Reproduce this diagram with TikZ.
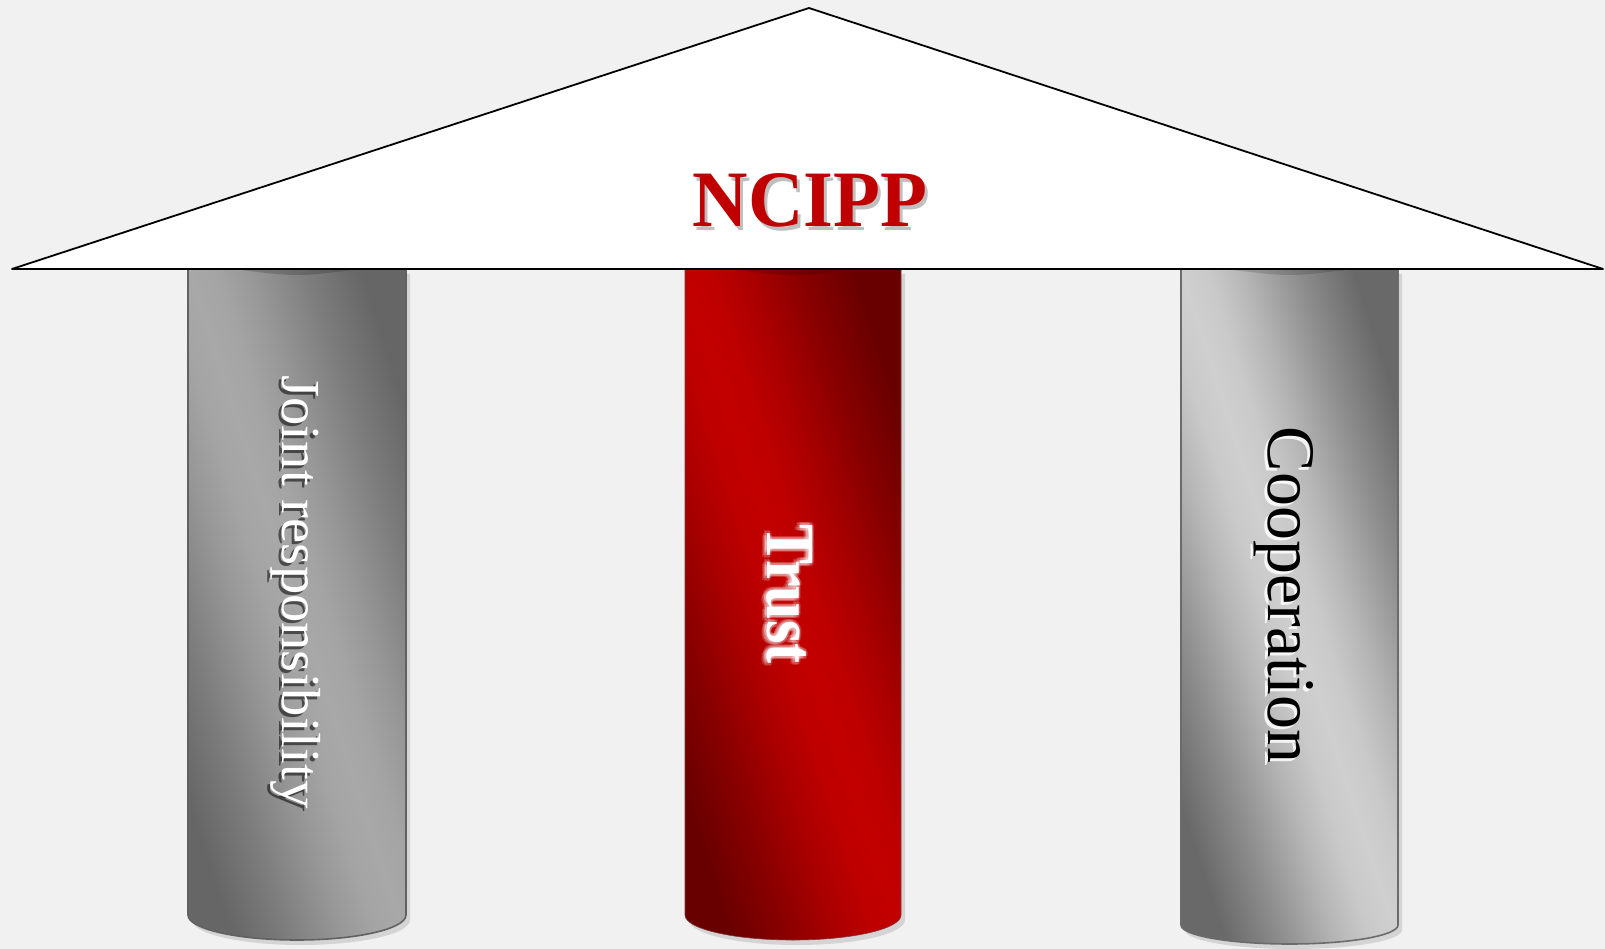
\documentclass[tikz,border=0pt]{standalone}
\usepackage{fontspec}
\setmainfont{Liberation Serif}
\usepackage{graphicx}
\definecolor{bg}{HTML}{F0F1F0}
\definecolor{gLl}{HTML}{A8A8A8}
\definecolor{gLd}{HTML}{666666}
\definecolor{rl}{HTML}{C20000}
\definecolor{rd}{HTML}{680000}
\definecolor{gRl}{HTML}{CFCFCF}
\definecolor{gRd}{HTML}{696969}
\definecolor{ncred}{HTML}{C00000}
\pgfdeclareverticalshading{pilgreyL}{100bp}{color(0bp)=(gLd); color(25bp)=(gLd); color(33bp)=(gLl!35!gLd); color(41bp)=(gLl!75!gLd); color(46bp)=(gLl!94!gLd); color(50bp)=(gLl); color(54bp)=(gLl!94!gLd); color(59bp)=(gLl!75!gLd); color(67bp)=(gLl!35!gLd); color(75bp)=(gLd); color(100bp)=(gLd)}
\pgfdeclareverticalshading{pilred}{100bp}{color(0bp)=(rd); color(25bp)=(rd); color(33bp)=(rl!35!rd); color(41bp)=(rl!75!rd); color(46bp)=(rl!94!rd); color(50bp)=(rl); color(54bp)=(rl!94!rd); color(59bp)=(rl!75!rd); color(67bp)=(rl!35!rd); color(75bp)=(rd); color(100bp)=(rd)}
\pgfdeclareverticalshading{pilgreyR}{100bp}{color(0bp)=(gRd); color(25bp)=(gRd); color(33bp)=(gRl!35!gRd); color(41bp)=(gRl!75!gRd); color(46bp)=(gRl!94!gRd); color(50bp)=(gRl); color(54bp)=(gRl!94!gRd); color(59bp)=(gRl!75!gRd); color(67bp)=(gRl!35!gRd); color(75bp)=(gRd); color(100bp)=(gRd)}
\newcommand\pillarpath[4]{(#1,269) -- (#1,#3) .. controls (#1,{#3+0.552*#4}) and ({(#1+#2)/2-0.552*(#2-#1)/2},{#3+#4}) .. ({(#1+#2)/2},{#3+#4}) .. controls ({(#1+#2)/2+0.552*(#2-#1)/2},{#3+#4}) and (#2,{#3+0.552*#4}) .. (#2,#3) -- (#2,269) -- cycle}
\newcommand\toplens[2]{({#1+45},269) .. controls ({(#1+#2)/2},277) .. ({#2-45},269) -- cycle}
\tikzset{
  pilshadow/.style={fill=black!30, opacity=0.45},
  pilline/.style={line width=1.6pt},
  roofstyle/.style={fill=white, draw=black, line width=1.8pt, line join=round},
  vlabel/.style={rotate=-90, inner sep=0pt},
}
\begin{document}
\begin{tikzpicture}[x=1pt,y=-1pt]
\fill[bg] (0,0) rectangle (1605,949);
\useasboundingbox (0,0) rectangle (1605,949);
% pillar shadows
\fill[pilshadow, shift={(4,5)}] \pillarpath{188}{406}{915}{25};
\fill[pilshadow, shift={(4,5)}] \pillarpath{685}{901}{915}{25};
\fill[pilshadow, shift={(4,5)}] \pillarpath{1181}{1398}{925}{19};
% pillars
\shade[shading=pilgreyL, shading angle=-72] \pillarpath{188}{406}{915}{25};
\draw[pilline, draw=black!62] \pillarpath{188}{406}{915}{25};
\fill[black, opacity=0.18] \toplens{188}{406};
\shade[shading=pilred, shading angle=-72] \pillarpath{685}{901}{915}{25};
\draw[line width=0.6pt, draw=rd!80] \pillarpath{685}{901}{915}{25};
\fill[black, opacity=0.15] \toplens{685}{901};
\shade[shading=pilgreyR, shading angle=-72] \pillarpath{1181}{1398}{925}{19};
\draw[pilline, draw=black!58] \pillarpath{1181}{1398}{925}{19};
\fill[black, opacity=0.15] \toplens{1181}{1398};
% roof
\coordinate (rl) at (12,269);
\coordinate (rt) at (809,8);
\coordinate (rr) at (1603,269);
\draw[roofstyle] (rl) -- (rt) -- (rr) -- cycle;
% NCIPP
\node[inner sep=0pt, anchor=base, text=black!45, opacity=0.55, font=\bfseries\fontsize{80}{90}\selectfont] (ncippshadow) at (813,231) {\scalebox{0.96}[1]{NCIPP}};
\node[inner sep=0pt, anchor=base, text=ncred, font=\bfseries\fontsize{80}{90}\selectfont] (ncipp) at (810,227) {\scalebox{0.96}[1]{NCIPP}};
% Joint responsibility
\node[vlabel, text=black, opacity=0.55, font=\fontsize{55}{60}\selectfont] (jrshadow) at (293,595) {\scalebox{1.03}[1]{Joint responsibility}};
\node[vlabel, text=white, font=\fontsize{55}{60}\selectfont] (jr) at (296,592) {\scalebox{1.03}[1]{Joint responsibility}};
% Trust
\foreach \dx/\dy [count=\i] in {-4/0, -3/3, -3/-3, 0/3, 0/-3, 2/0, -5/2, -2/0, -2/2, -2/-2, 1/2, 1/-2}
  \node[vlabel, text=white, opacity=0.16, font=\bfseries\fontsize{69}{72}\selectfont] (trustglow\i) at ({790+\dx},{594+\dy}) {\scalebox{0.87}[1]{Trust}};
\node[vlabel, text=white, font=\bfseries\fontsize{69}{72}\selectfont] (trust) at (790,594) {\scalebox{0.87}[1]{Trust}};
% Cooperation
\node[vlabel, text=white, opacity=0.85, font=\fontsize{68}{72}\selectfont] (coopshadow) at (1281,598) {Cooperation};
\node[vlabel, text=black, font=\fontsize{68}{72}\selectfont] (coop) at (1284,595) {Cooperation};
\end{tikzpicture}
\end{document}
